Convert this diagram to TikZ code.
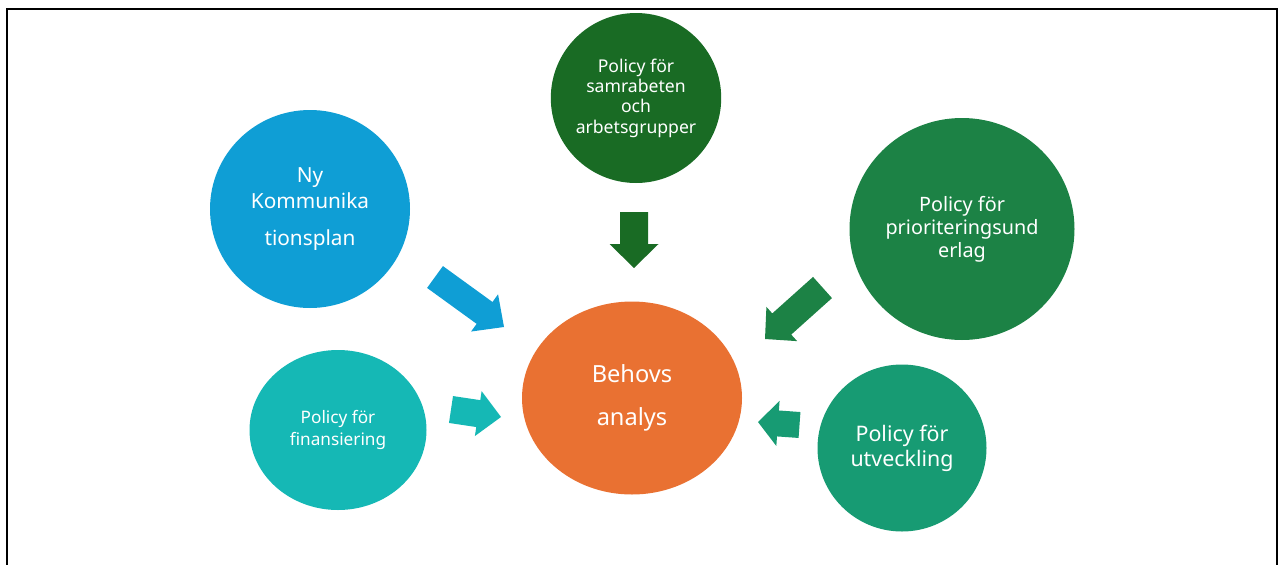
\documentclass[tikz,border=0pt]{standalone}
\usepackage{fontspec}
\setmainfont{Noto Sans}
\usetikzlibrary{shapes.geometric,calc}
\definecolor{cTop}{HTML}{196B24}
\definecolor{cBlue}{HTML}{0F9ED5}
\definecolor{cPrio}{HTML}{1C8245}
\definecolor{cOrange}{HTML}{E97132}
\definecolor{cTeal}{HTML}{15B8B5}
\definecolor{cUtv}{HTML}{179B73}
\newcommand{\blockarrow}[6]{%
  \coordinate (ba-h) at ($(#3)!#6!(#2)$);
  \fill[#1] ($(#2)!#4!90:(#3)$) -- ($(ba-h)!#4!90:(#3)$) -- ($(ba-h)!#5!90:(#3)$) -- (#3)
    -- ($(ba-h)!#5!-90:(#3)$) -- ($(ba-h)!#4!-90:(#3)$) -- ($(#2)!#4!-90:(#3)$) -- cycle;}
\tikzset{
  bubble/.style={ellipse, inner sep=0pt, text=white, align=center},
  frame/.style={line width=2pt, black}
}
\begin{document}
\begin{tikzpicture}[x=1pt,y=-1pt]
\useasboundingbox (0,0) rectangle (1280,565);
\draw[frame] (7,565) -- (7,9) -- (1277,9) -- (1277,565);

\node[bubble, fill=cTop, minimum width=170pt, minimum height=170pt,
  font=\fontsize{17.6}{20.4}\selectfont] (top) at (636,98)
  {Policy för\\samrabeten\\och\\arbetsgrupper};
\node[bubble, fill=cBlue, minimum width=200pt, minimum height=198pt,
  font=\fontsize{20.8}{26}\selectfont] (ny) at (310,209)
  {Ny\\Kommunika\\[11pt]tionsplan};
\node[bubble, fill=cPrio, minimum width=225pt, minimum height=222pt,
  font=\fontsize{19.8}{23}\selectfont] (prio) at (962,229)
  {Policy för\\prioriteringsund\\erlag};
\node[bubble, fill=cOrange, minimum width=220pt, minimum height=193pt,
  font=\fontsize{23.6}{43}\selectfont] (beh) at (632,398)
  {Behovs\\analys};
\node[bubble, fill=cTeal, minimum width=177pt, minimum height=160pt,
  font=\fontsize{17.2}{22}\selectfont] (fin) at (338,430)
  {Policy för\\finansiering};
\node[bubble, fill=cUtv, minimum width=169pt, minimum height=167pt,
  font=\fontsize{21.4}{25}\selectfont] (utv) at (902,448)
  {Policy för\\utveckling};

\coordinate (topS) at (634,212);  \coordinate (topE) at (634,268);
\coordinate (nyS) at (435,277);   \coordinate (nyE) at (504,327);
\coordinate (finS) at (451,409.5);\coordinate (finE) at (501,417);
\coordinate (prioS) at (822.5,287.5); \coordinate (prioE) at (765,339);
\coordinate (utvS) at (799.5,425); \coordinate (utvE) at (758,422);

\blockarrow{cTop}{topS}{topE}{14pt}{24.5pt}{24pt}
\blockarrow{cBlue}{nyS}{nyE}{13.5pt}{23pt}{24pt}
\blockarrow{cTeal}{finS}{finE}{13.6pt}{22.7pt}{23pt}
\blockarrow{cPrio}{prioS}{prioE}{14.2pt}{23pt}{22.5pt}
\blockarrow{cUtv}{utvS}{utvE}{13pt}{22.6pt}{20pt}
\end{tikzpicture}
\end{document}
